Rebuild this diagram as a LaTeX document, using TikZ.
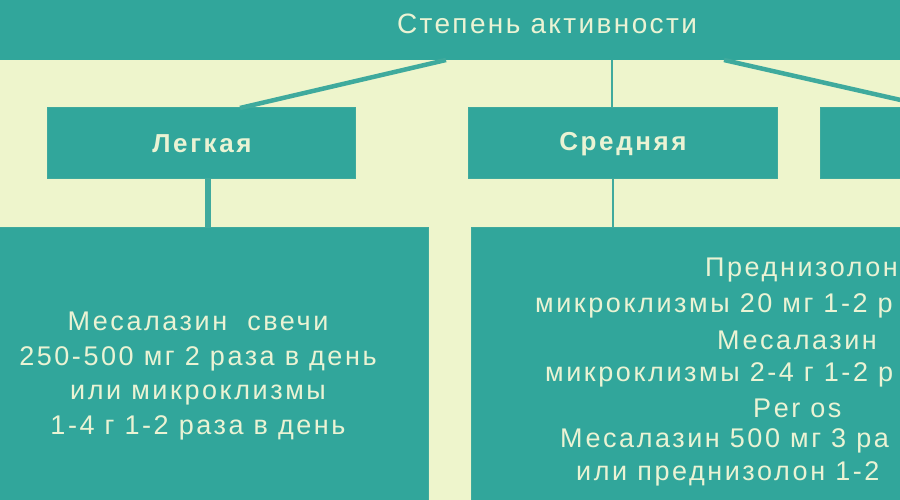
\documentclass[tikz,border=0pt]{standalone}
\usepackage{fontspec}
\setmainfont{Liberation Sans}
\definecolor{bgcream}{HTML}{EEF5CC}
\definecolor{teal1}{HTML}{31A69B}
\definecolor{tealline}{HTML}{3FAA9D}
\definecolor{txtcol}{HTML}{EAF3D4}
\begin{document}
\begin{tikzpicture}[x=1pt,y=-1pt,
  box/.style={fill=teal1, draw=tealline, line width=1pt, inner sep=0pt},
  head/.style={text=txtcol, font=\fontsize{26}{30}\selectfont\bfseries\addfontfeature{LetterSpace=10}},
  body/.style={text=txtcol, font=\fontsize{27}{34.5}\selectfont\addfontfeature{LetterSpace=9.5}, inner sep=0pt},
  conn/.style={tealline, line width=#1},
  conn/.default=2.5pt]
\useasboundingbox (0,0) rectangle (900,500);
\clip (0,0) rectangle (900,500);
\fill[bgcream] (0,0) rectangle (900,500);
% banner
\node[box, draw=none, minimum width=920, minimum height=60] (top) at (450,30) {};
\node[text=txtcol, font=\fontsize{28}{32}\selectfont\addfontfeature{LetterSpace=8.5}, inner sep=0pt] (toptxt) at (547,24) {Степень активности};
% second level
\node[box, minimum width=308, minimum height=71] (lg) at (201,143.5) {};
\node[head, inner sep=0pt] (lgtxt) at (202,144) {Легкая};
\node[box, minimum width=309, minimum height=71] (sr) at (622.5,143.5) {};
\node[head, inner sep=0pt] (srtxt) at (623,144) {Средняя};
\node[box, minimum width=308, minimum height=71] (tj) at (974,143.5) {};
% connectors top
\coordinate (t1) at (446,60);
\coordinate (t2) at (612,60);
\coordinate (t3) at (724,60);
\coordinate (lgin) at (240,108);
\coordinate (srin) at (612,108);
\coordinate (tjin) at (936,108);
\draw[conn=4.5pt] (t1) -- (lgin);
\draw[conn=2.5pt] (t2) -- (srin);
\draw[conn=4.5pt] (t3) -- (tjin);
% third level
\node[box, minimum width=438, minimum height=300, anchor=north west] (lb) at (-10,227) {};
\node[box, minimum width=652, minimum height=300, anchor=north west] (mb) at (471,227) {};
\draw[conn=6pt] (lg.south -| 208,0) -- (lb.north -| 208,0);
\draw[conn=2.5pt] (sr.south -| 613,0) -- (mb.north -| 613,0);
% left text
\node[body, align=center] (ltxt) at (198,376) {Месалазин\ \ свечи\\250-500 мг 2 раза в день\\или микроклизмы\\1-4 г 1-2 раза в день};
% middle text lines (cut at picture edge)
\node[body, anchor=west] (m1) at (705,270) {Преднизолон};
\node[body, anchor=west] (m2) at (535,306) {микроклизмы 20 мг 1-2 р};
\node[body, anchor=west] (m3) at (717,340) {Месалазин};
\node[body, anchor=west] (m4) at (545,375) {микроклизмы 2-4 г 1-2 р};
\node[body, anchor=west] (m5) at (753,408) {Per os};
\node[body, anchor=west] (m6) at (560,441) {Месалазин 500 мг 3 ра};
\node[body, anchor=west] (m7) at (576,474) {или преднизолон 1-2 };
\end{tikzpicture}
\end{document}
